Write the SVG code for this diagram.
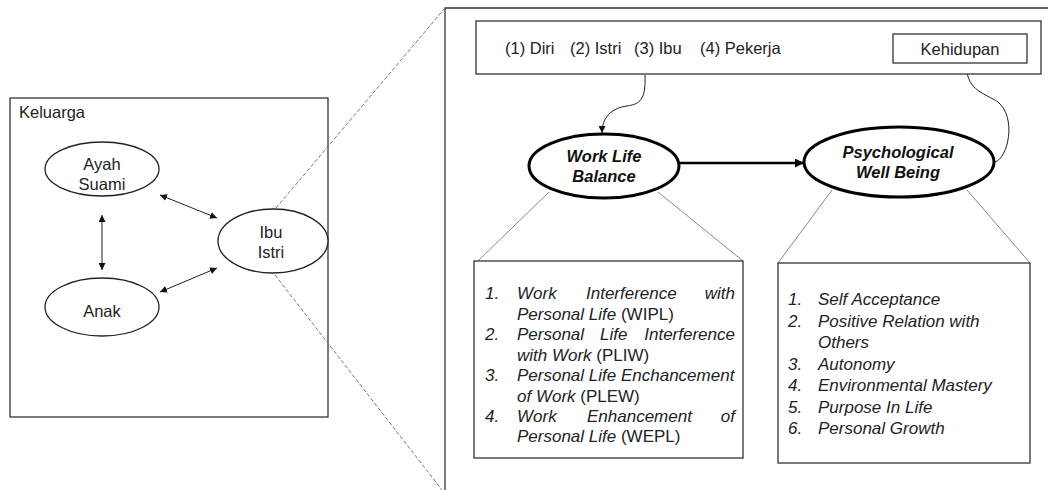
<svg xmlns="http://www.w3.org/2000/svg" width="1048" height="490" viewBox="0 0 1048 490">
<style>
text{font-family:"Liberation Sans",Arial,sans-serif;fill:#222;}
.lbl{font-size:16.5px;text-anchor:middle;}
.bi{font-size:16.5px;font-weight:bold;font-style:italic;text-anchor:middle;fill:#111;}
.it{font-style:italic;}
.lst{font-size:17px;}
.box{fill:#fff;stroke:#333;stroke-width:1.3;}
.ell{fill:#fff;stroke:#222;stroke-width:1.3;}
.bell{fill:#fff;stroke:#000;stroke-width:3;}
.thin{stroke:#222;stroke-width:1;fill:none;}
.gray{stroke:#888;stroke-width:1;fill:none;}
.dash{stroke:#777;stroke-width:1;stroke-dasharray:4,2;fill:none;}
</style>
<defs>
<marker id="ah" viewBox="0 0 10 10" refX="10" refY="5" markerWidth="7" markerHeight="7" markerUnits="userSpaceOnUse" orient="auto-start-reverse"><path d="M0,0 L10,5 L0,10 z" fill="#111"/></marker>
<marker id="ahb" viewBox="0 0 10 10" refX="10" refY="5" markerWidth="9" markerHeight="9" markerUnits="userSpaceOnUse" orient="auto"><path d="M0,0 L10,5 L0,10 z" fill="#000"/></marker>
</defs>
<rect width="1048" height="490" fill="#fff"/>

<g id="keluarga">
<rect class="box" x="10" y="98" width="318" height="319"/>
<text x="19" y="118" style="font-size:16.5px">Keluarga</text>
</g>

<g id="right-panel">
<path d="M445,490 L445,8 L1048,8" fill="none" stroke="#333" stroke-width="1.3"/>
</g>

<g id="connectors">
<line class="dash" x1="276" y1="208" x2="445" y2="8"/>
<line class="dash" x1="275" y1="275" x2="442" y2="490"/>
<line class="thin" x1="102" y1="215" x2="102" y2="270" marker-start="url(#ah)" marker-end="url(#ah)"/>
<line class="thin" x1="160" y1="195" x2="217" y2="218" marker-start="url(#ah)" marker-end="url(#ah)"/>
<line class="thin" x1="160" y1="292" x2="217" y2="268" marker-start="url(#ah)" marker-end="url(#ah)"/>
<path class="thin" d="M645,75 C646,100 640,104 627,106 C611,108 602,118 602,133" stroke="#444" marker-end="url(#ah)"/>
<path class="thin" d="M995,162 C1008,158 1017,118 998,102 C985,93 968,92 966,66" stroke="#444" marker-end="url(#ah)"/>
<line x1="680" y1="163" x2="804" y2="163" stroke="#000" stroke-width="2.5" marker-end="url(#ahb)"/>
<line class="gray" x1="549" y1="192" x2="478" y2="261"/>
<line class="gray" x1="658" y1="192" x2="743" y2="261"/>
<line class="gray" x1="832" y1="190" x2="778" y2="263"/>
<line class="gray" x1="967" y1="190" x2="1030" y2="263"/>
</g>

<g id="ayah">
<ellipse class="ell" cx="102" cy="169" rx="57" ry="27"/>
<text class="lbl" x="102" y="170">Ayah</text>
<text class="lbl" x="102" y="190">Suami</text>
</g>
<g id="anak">
<ellipse class="ell" cx="102" cy="307" rx="57" ry="29"/>
<text class="lbl" x="102" y="317">Anak</text>
</g>
<g id="ibu">
<ellipse class="ell" cx="273" cy="241" rx="55" ry="32"/>
<text class="lbl" x="271" y="238">Ibu</text>
<text class="lbl" x="271" y="258">Istri</text>
</g>

<g id="peran">
<rect class="box" x="476" y="21" width="565" height="53"/>
<text x="505" y="54" style="font-size:16.5px">(1) Diri</text>
<text x="570" y="54" style="font-size:16.5px">(2) Istri</text>
<text x="634" y="54" style="font-size:16.5px">(3) Ibu</text>
<text x="700" y="54" style="font-size:16.5px">(4) Pekerja</text>
</g>
<g id="kehidupan">
<rect class="box" x="893" y="34" width="134" height="29"/>
<text class="lbl" x="960" y="55">Kehidupan</text>
</g>

<g id="wlb">
<ellipse class="bell" cx="604" cy="166" rx="75" ry="32"/>
<text class="bi" x="604" y="162">Work Life</text>
<text class="bi" x="604" y="182">Balance</text>
</g>
<g id="pwb">
<ellipse class="bell" cx="899" cy="162" rx="95" ry="35"/>
<text class="bi" x="898" y="158">Psychological</text>
<text class="bi" x="898" y="178">Well Being</text>
</g>

<g id="wlb-list">
<rect class="box" x="474" y="261" width="269" height="197"/>
<g class="lst">
<text class="it" x="485" y="299">1.</text>
<text class="it" x="517" y="299">Work</text>
<text class="it" x="586" y="299">Interference</text>
<text class="it" x="735" y="299" text-anchor="end">with</text>
<text x="517" y="319.5"><tspan class="it">Personal Life</tspan> (WIPL)</text>
<text class="it" x="485" y="340">2.</text>
<text class="it" x="517" y="340">Personal</text>
<text class="it" x="600" y="340">Life</text>
<text class="it" x="735" y="340" text-anchor="end">Interference</text>
<text x="517" y="360.5"><tspan class="it">with Work</tspan> (PLIW)</text>
<text class="it" x="485" y="381">3.</text>
<text class="it" x="517" y="381">Personal Life Enchancement</text>
<text x="517" y="401.5"><tspan class="it">of Work</tspan> (PLEW)</text>
<text class="it" x="485" y="422">4.</text>
<text class="it" x="517" y="422">Work</text>
<text class="it" x="587" y="422">Enhancement</text>
<text class="it" x="735" y="422" text-anchor="end">of</text>
<text x="517" y="442"><tspan class="it">Personal Life</tspan> (WEPL)</text>
</g>
</g>

<g id="pwb-list">
<rect class="box" x="778" y="263" width="252" height="200"/>
<g class="lst it">
<text x="788" y="305">1.</text><text x="818" y="305">Self Acceptance</text>
<text x="788" y="326.5">2.</text><text x="818" y="326.5">Positive Relation with</text>
<text x="818" y="348">Others</text>
<text x="788" y="369.5">3.</text><text x="818" y="369.5">Autonomy</text>
<text x="788" y="391">4.</text><text x="818" y="391">Environmental Mastery</text>
<text x="788" y="412.5">5.</text><text x="818" y="412.5">Purpose In Life</text>
<text x="788" y="434">6.</text><text x="818" y="434">Personal Growth</text>
</g>
</g>
</svg>
